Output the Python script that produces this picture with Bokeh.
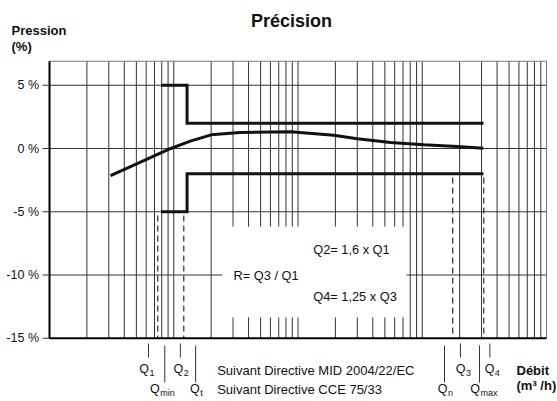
from bokeh.plotting import figure
from bokeh.models import Range1d
from bokeh.core.properties import value
from bokeh.embed import file_html
from bokeh.resources import INLINE

# ---------------- data ----------------
flow = [3.1, 5.4, 8.9, 13.6, 20, 34, 87, 194, 300, 555, 1030, 1910, 3100]
error = [-2.15, -1.07, -0.1, 0.58, 1.08, 1.26, 1.32, 1.05, 0.77, 0.47, 0.29, 0.16, 0.02]

limit_flow = [7.9, 12.8, 12.8, 3110]
upper_limit = [5, 5, 2, 2]
lower_limit = [-5, -5, -2, -2]

dashed_flow = [7.44, 12.05, 1760, 3130]
dashed_top = [-5, -5, -2, -2]

y_ticks = [5, 0, -5, -10, -15]
y_tick_labels = ["5 %", "0 %", "-5 %", "-10 %", "-15 %"]
y_top = 6.9
x_min, x_max = 1, 10000

mid_subs = ["1", "2", "3", "4"]
mid_flow = [6.26, 11.3, 2030, 3500]
cce_subs = ["min", "t", "n", "max"]
cce_flow = [8.47, 15.0, 1510, 2890]

box_left, box_right, box_top, box_bottom = 24.7, 747, -6.17, -13.36

# ---------------- layout ----------------
W, H = 557, 401
PX_DEC = 124.25        # pixels per decade
X1_PX = 49             # px of x = 1
Y_PX = 12.65           # pixels per percent
Y0_PX = 148            # px (from top) of y = 0

def xd(px):
    return 10 ** ((px - X1_PX) / PX_DEC)

def yd(py):
    return (Y0_PX - py) / Y_PX

FONT = value("Liberation Sans")

p = figure(width=W, height=H, output_backend="svg", toolbar_location=None,
           x_axis_type="log", x_axis_location=None, y_axis_location=None,
           x_range=Range1d(xd(0), xd(W)), y_range=Range1d(yd(H), yd(0)),
           min_border=0, outline_line_color=None, title=None)
p.grid.visible = False
p.background_fill_color = "white"
p.border_fill_color = "white"

GRID = "#333333"
# vertical log grid lines
grid_x = [m * 10 ** k for k in range(4) for m in range(1, 10) if not (k == 0 and m == 1)]
p.segment(x0=grid_x, y0=-15, x1=grid_x, y1=y_top, line_color=GRID, line_width=1)
# horizontal grid lines + ticks
tick_x = xd(42)
p.segment(x0=[tick_x] * 5, y0=y_ticks, x1=[x_max] * 4 + [x_min], y1=y_ticks,
          line_color=GRID, line_width=1)
# frame top / right
p.line(x=[x_min, x_max, x_max], y=[y_top, y_top, -15], line_color="#777777", line_width=1)

# white box
p.quad(left=box_left, right=box_right, top=box_top, bottom=box_bottom,
       fill_color="white", line_color=None)

# axes
p.line(x=[x_min, x_min], y=[-15, y_top], line_color="black", line_width=2)
p.line(x=[x_min, x_max], y=[-15, -15], line_color="black", line_width=2)

# y tick labels
p.text(x=[xd(38.5)] * 5, y=y_ticks, text=y_tick_labels, text_align="right",
       text_baseline="middle", text_font=FONT, text_font_size="12.5px", text_color="#111")

# dashed verticals
p.segment(x0=dashed_flow, y0=[t - 0.3 for t in dashed_top], x1=dashed_flow, y1=-15,
          line_color="black", line_width=1, line_dash="6 4")

# limits
p.line(x=limit_flow, y=upper_limit, line_color="#111", line_width=3, line_join="miter")
p.line(x=limit_flow, y=lower_limit, line_color="#111", line_width=3, line_join="miter")

# accuracy curve
p.line(x=flow, y=error, line_color="#111", line_width=3)

# box texts
p.text(x=[xd(233), xd(312.7), xd(312.7)], y=[-10, yd(249.3), yd(296)],
       text=["R= Q3 / Q1", "Q2= 1,6 x Q1", "Q4= 1,25 x Q3"],
       text_baseline="middle", text_font=FONT, text_font_size="12.8px", text_color="#111")

# bottom marks & labels
def q_labels(flows, subs, offsets, mark_top, mark_bottom, label_y):
    p.segment(x0=flows, y0=yd(mark_top), x1=flows, y1=yd(mark_bottom),
              line_color="#333", line_width=1)
    for f, s, o in zip(flows, subs, offsets):
        p.text(x=[f], y=[yd(label_y)], text=["Q"], text_align="right",
               text_baseline="middle", x_offset=o, text_font=FONT,
               text_font_size="12.5px", text_color="#111")
        p.text(x=[f], y=[yd(label_y + 4)], text=[s], text_align="left",
               text_baseline="middle", x_offset=o + 0.5, text_font=FONT,
               text_font_size="9px", text_color="#111")

q_labels(mid_flow, mid_subs, [0.5, 3, 5, 4.5], 343, 357, 368)
q_labels(cce_flow, cce_subs, [-5, 4, 3, 0.5], 345, 382, 388)

p.text(x=[xd(216.7), xd(216.7)], y=[yd(370), yd(389)],
       text=["Suivant Directive MID 2004/22/EC", "Suivant Directive CCE 75/33"],
       text_baseline="middle", text_font=FONT, text_font_size="13px", text_color="#111")

p.text(x=[xd(516), xd(516)], y=[yd(370), yd(385)], text=["Débit", "(m³ /h)"],
       text_baseline="middle", text_font=FONT, text_font_size="13px",
       text_font_style="bold", text_color="#111")

# titles
p.text(x=[xd(291)], y=[yd(20)], text=["Précision"], text_align="center",
       text_baseline="middle", text_font=FONT, text_font_size="18px",
       text_font_style="bold", text_color="#111")
p.text(x=[xd(11), xd(11)], y=[yd(30), yd(46)], text=["Pression", "(%)"],
       text_baseline="middle", text_font=FONT, text_font_size="13px",
       text_font_style="bold", text_color="#111")

open("out.html", "w").write(file_html(p, INLINE))
